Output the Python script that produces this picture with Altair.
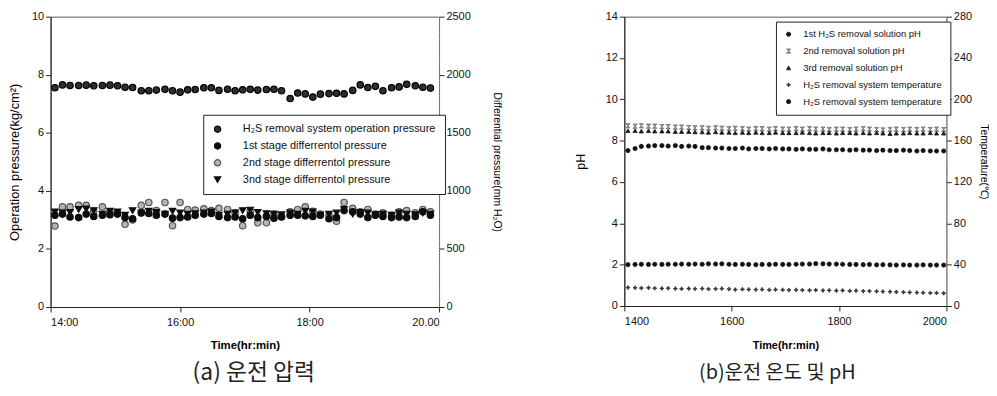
import altair as alt
import pandas as pd

# ---------------- panel (a): operation / differential pressure ----------------
times_a = ["14:04", "14:11", "14:18", "14:26", "14:33", "14:40", "14:48", "14:55", "15:02", "15:09",
           "15:16", "15:24", "15:31", "15:38", "15:46", "15:53", "16:00", "16:07", "16:14", "16:22",
           "16:29", "16:36", "16:44", "16:51", "16:58", "17:05", "17:12", "17:20", "17:27", "17:34",
           "17:42", "17:49", "17:56", "18:03", "18:10", "18:18", "18:25", "18:32", "18:40", "18:47",
           "18:54", "19:01", "19:08", "19:16", "19:23", "19:30", "19:38", "19:45", "19:52"]
op_pressure = [7.55, 7.65, 7.63, 7.63, 7.64, 7.62, 7.63, 7.64, 7.62, 7.57,
               7.56, 7.45, 7.45, 7.47, 7.50, 7.45, 7.40, 7.48, 7.49, 7.55,
               7.55, 7.46, 7.50, 7.45, 7.48, 7.50, 7.47, 7.49, 7.50, 7.45,
               7.18, 7.37, 7.34, 7.23, 7.33, 7.35, 7.36, 7.34, 7.46, 7.65,
               7.56, 7.60, 7.45, 7.55, 7.58, 7.67, 7.62, 7.57, 7.54]
diff_1st = [790, 800, 775, 770, 800, 780, 790, 795, 800, 770,
            760, 810, 805, 790, 800, 765, 770, 775, 790, 800,
            805, 780, 770, 775, 760, 790, 770, 780, 765, 775,
            790, 790, 785, 780, 790, 760, 770, 830, 820, 800,
            770, 790, 780, 770, 775, 770, 780, 820, 790]
diff_2nd = [697, 862, 862, 875, 875, 825, 862, 820, 810, 712,
            750, 875, 900, 830, 900, 700, 900, 840, 835, 845,
            830, 850, 840, 810, 700, 825, 725, 725, 800, 780,
            820, 840, 862, 825, 800, 790, 738, 900, 850, 820,
            840, 800, 810, 790, 820, 830, 810, 840, 820]
diff_3rd = [820, 810, 815, 840, 845, 830, 800, 825, 820, 790,
            830, 810, 825, 815, 800, 825, 810, 800, 805, 810,
            820, 790, 800, 810, 830, 835, 815, 805, 800, 795,
            810, 800, 825, 820, 790, 800, 810, 840, 800, 815,
            810, 795, 800, 790, 810, 800, 795, 810, 800]
keys_a = ["op", "d1", "d2", "d3"]
labels_a = ["H\u2082S removal system operation pressure",
            "1st stage differrentol pressure",
            "2nd stage differrentol pressure",
            "3nd stage differrentol pressure"]
xlabels_a = ["14:00", "16:00", "18:00", "20.00"]

# ---------------- panel (b): temperature and pH ----------------
times_b = ["14:04", "14:12", "14:19", "14:27", "14:34", "14:42", "14:49", "14:57", "15:04", "15:12",
           "15:19", "15:27", "15:34", "15:42", "15:49", "15:57", "16:04", "16:12", "16:19", "16:27",
           "16:34", "16:42", "16:49", "16:57", "17:04", "17:12", "17:19", "17:27", "17:34", "17:42",
           "17:49", "17:57", "18:04", "18:12", "18:19", "18:27", "18:34", "18:42", "18:49", "18:57",
           "19:04", "19:12", "19:19", "19:27", "19:34", "19:42", "19:49", "19:57"]
ph_1st = [7.52, 7.62, 7.72, 7.74, 7.76, 7.76, 7.74, 7.76, 7.72, 7.74,
          7.72, 7.66, 7.66, 7.64, 7.64, 7.62, 7.62, 7.64, 7.60, 7.62,
          7.62, 7.60, 7.62, 7.60, 7.60, 7.58, 7.60, 7.58, 7.58, 7.60,
          7.56, 7.56, 7.56, 7.54, 7.56, 7.54, 7.54, 7.52, 7.54, 7.52,
          7.52, 7.54, 7.52, 7.50, 7.52, 7.50, 7.50, 7.50]
ph_2nd = [8.72, 8.70, 8.72, 8.70, 8.70, 8.68, 8.68, 8.66, 8.66, 8.64,
          8.62, 8.62, 8.60, 8.62, 8.60, 8.58, 8.60, 8.58, 8.56, 8.58,
          8.58, 8.56, 8.58, 8.56, 8.56, 8.58, 8.56, 8.58, 8.56, 8.56,
          8.54, 8.56, 8.56, 8.54, 8.56, 8.58, 8.56, 8.54, 8.52, 8.54,
          8.56, 8.54, 8.56, 8.54, 8.56, 8.54, 8.56, 8.54]
ph_3rd = [8.48, 8.48, 8.46, 8.48, 8.46, 8.46, 8.46, 8.44, 8.44, 8.44,
          8.42, 8.42, 8.40, 8.42, 8.40, 8.40, 8.38, 8.40, 8.38, 8.40,
          8.38, 8.38, 8.40, 8.38, 8.38, 8.38, 8.40, 8.38, 8.36, 8.38,
          8.38, 8.36, 8.38, 8.38, 8.36, 8.38, 8.36, 8.38, 8.36, 8.34,
          8.36, 8.36, 8.38, 8.36, 8.36, 8.38, 8.36, 8.36]
temp_1 = [17.8, 17.6, 17.4, 17.6, 17.2, 17.0, 17.2, 16.8, 16.6, 16.8,
          16.6, 16.8, 16.4, 16.6, 16.8, 16.4, 15.8, 16.2, 16.0, 15.8,
          16.0, 15.6, 15.8, 15.6, 15.4, 15.6, 15.4, 15.2, 15.4, 15.0,
          15.2, 14.8, 15.0, 14.6, 14.8, 14.4, 14.4, 14.2, 14.0, 13.8,
          13.6, 13.4, 13.2, 13.0, 12.8, 12.6, 12.6, 12.4]
temp_2 = [40.0, 40.2, 40.4, 40.2, 40.4, 40.2, 40.4, 40.4, 40.6, 40.4,
          40.6, 40.4, 40.8, 40.6, 40.8, 40.4, 40.2, 40.4, 40.2, 40.0,
          40.2, 40.2, 40.4, 40.2, 40.2, 40.4, 40.6, 40.6, 41.0, 40.8,
          40.6, 40.6, 40.4, 40.2, 40.2, 40.0, 40.2, 39.8, 40.0, 39.8,
          39.6, 39.8, 39.6, 39.6, 39.8, 39.6, 39.6, 39.6]
keys_b = ["p1", "p2", "p3", "t1", "t2"]
labels_b = ["1st H\u2082S removal solution pH",
            "2nd removal solution pH",
            "3rd removal solution pH",
            "H\u2082S removal system temperature",
            "H\u2082S removal system temperature"]
xlabels_b = ["1400", "1600", "1800", "2000"]


def to_min(s):
    h, m = s.split(":")
    return (int(h) - 14) * 60 + int(m)


def long_frame(times, series):
    rows = []
    for key, vals in series:
        for t, v in zip(times, vals):
            rows.append({"t": to_min(t), "series": key, "value": v})
    return pd.DataFrame(rows)


df_a = long_frame(times_a, [("op", op_pressure), ("d2", diff_2nd), ("d3", diff_3rd), ("d1", diff_1st)])
df_b = long_frame(times_b, [("p2", ph_2nd), ("p3", ph_3rd), ("p1", ph_1st), ("t1", temp_1), ("t2", temp_2)])

FONT = "Liberation Sans"
NARROW = "Liberation Sans Narrow, Liberation Sans"
KFONT = "Noto Sans CJK KR"


def label_expr(keys, labels):
    k = "[" + ",".join("'%s'" % x for x in keys) + "]"
    l = "[" + ",".join("'%s'" % x for x in labels) + "]"
    return "%s[indexof(%s, datum.value)]" % (l, k)


def xlab_expr(labels):
    return "[" + ",".join("'%s'" % x for x in labels) + "][round(datum.value/120)]"


# ---------- panel (a) ----------
shapes_a = ["circle", "circle", "circle", "triangle-down"]
fills_a = ["#2e2e2e", "#0d0d0d", "#b4b4b4", "#0d0d0d"]
strokes_a = ["#000000", "#0d0d0d", "#555555", "#0d0d0d"]

leg_a = alt.Legend(orient="none", legendX=154, legendY=99, title=None,
                   labelExpr=label_expr(keys_a, labels_a), labelLimit=400,
                   strokeColor="#222", fillColor="white", padding=9,
                   rowPadding=4, labelFont=FONT, labelFontSize=11, labelColor="#111",
                   symbolSize=40, labelOffset=20, symbolStrokeWidth=1.2)

enc_a = dict(
    x=alt.X("t:Q", scale=alt.Scale(domain=[0, 360], nice=False, zero=False),
            axis=alt.Axis(values=[0, 120, 240, 360], labelExpr=xlab_expr(xlabels_a),
                          title="Time(hr:min)", titleFont=FONT, titleFontSize=11.5,
                          titleFontWeight="bold", titlePadding=12, labelFont=FONT,
                          labelFontSize=11, labelColor="#111", labelPadding=5,
                          tickSize=5, domainColor="#222", tickColor="#222", grid=False)),
    shape=alt.Shape("series:N", scale=alt.Scale(domain=keys_a, range=shapes_a), legend=leg_a),
    fill=alt.Fill("series:N", scale=alt.Scale(domain=keys_a, range=fills_a), legend=leg_a),
    stroke=alt.Stroke("series:N", scale=alt.Scale(domain=keys_a, range=strokes_a), legend=leg_a),
)

base_a = alt.Chart(df_a).mark_point(filled=True, opacity=1, size=42, strokeWidth=1.2)

layer_op = base_a.transform_filter(alt.datum.series == "op").encode(
    y=alt.Y("value:Q", scale=alt.Scale(domain=[0, 10], nice=False),
            axis=alt.Axis(orient="left", values=[0, 2, 4, 6, 8, 10],
                          title="Operation pressure(kg/cm\u00b2)", titleFont=FONT,
                          titleFontSize=13, titleFontWeight="normal", titlePadding=10,
                          labelFont=FONT, labelFontSize=11, labelColor="#111",
                          tickSize=5, domainColor="#222", tickColor="#222", grid=False)),
    **enc_a)
layer_diff = base_a.transform_filter(alt.datum.series != "op").encode(
    y=alt.Y("value:Q", scale=alt.Scale(domain=[0, 2500], nice=False),
            axis=alt.Axis(orient="right", values=[0, 500, 1000, 1500, 2000, 2500], format="d",
                          title="Differential pressure(mm H\u2082O)", titleFont=FONT,
                          titleFontSize=10.5, titleFontWeight="normal", titlePadding=21,
                          labelFont=FONT, labelFontSize=11, labelColor="#111",
                          tickSize=5, domainColor="#888", domainDash=[2, 1],
                          tickColor="#222", grid=False)),
    **enc_a)

panel_a = alt.layer(layer_op, layer_diff).resolve_scale(y="independent").properties(
    width=392, height=293,
    title=alt.TitleParams("(a) 운전 압력", orient="bottom", font=KFONT, fontSize=23,
                          fontWeight="normal", color="#222", anchor="middle", frame="group",
                          offset=11, dx=9))

# ---------- panel (b) ----------
hourglass = "M-1,-1L1,-1L-1,1L1,1Z"
star = "M0,-1L0.3,-0.3L1,0L0.3,0.3L0,1L-0.3,0.3L-1,0L-0.3,-0.3Z"
shapes_b = ["circle", hourglass, "triangle-up", star, "circle"]
fills_b = ["#111111", "#9a9a9a", "#1a1a1a", "#333333", "#111111"]
strokes_b = ["#111111", "#6a6a6a", "#1a1a1a", "#333333", "#111111"]

leg_b = alt.Legend(orient="none", legendX=153, legendY=5, title=None,
                   labelExpr=label_expr(keys_b, labels_b), labelLimit=400,
                   strokeColor="#222", fillColor="white", padding=8,
                   rowPadding=6, labelFont=NARROW, labelFontSize=9.5, labelColor="#111",
                   symbolSize=18, labelOffset=10, symbolStrokeWidth=0.8)

enc_b = dict(
    x=alt.X("t:Q", scale=alt.Scale(domain=[0, 360], nice=False, zero=False),
            axis=alt.Axis(values=[0, 120, 240, 360], labelExpr=xlab_expr(xlabels_b),
                          title="Time(hr:min)", titleFont=NARROW, titleFontSize=11,
                          titleFontWeight="bold", titlePadding=13, labelFont=NARROW,
                          labelFontSize=11, labelColor="#111", labelPadding=5,
                          tickSize=5, domainColor="#222", tickColor="#222", grid=False)),
    shape=alt.Shape("series:N", scale=alt.Scale(domain=keys_b, range=shapes_b), legend=leg_b),
    fill=alt.Fill("series:N", scale=alt.Scale(domain=keys_b, range=fills_b), legend=leg_b),
    stroke=alt.Stroke("series:N", scale=alt.Scale(domain=keys_b, range=strokes_b), legend=leg_b),
)

base_b = alt.Chart(df_b).mark_point(filled=True, opacity=1, size=18, strokeWidth=0.8)

layer_ph = base_b.transform_filter("indexof(['p1','p2','p3'], datum.series) >= 0").encode(
    y=alt.Y("value:Q", scale=alt.Scale(domain=[0, 14], nice=False),
            axis=alt.Axis(orient="left", values=[0, 2, 4, 6, 8, 10, 12, 14],
                          title="pH", titleFont=FONT, titleFontSize=12.5,
                          titleFontWeight="normal", titlePadding=18,
                          labelFont=NARROW, labelFontSize=11, labelColor="#111",
                          tickSize=5, domainColor="#222", tickColor="#222", grid=False)),
    **enc_b)
layer_temp = base_b.transform_filter("indexof(['t1','t2'], datum.series) >= 0").encode(
    y=alt.Y("value:Q", scale=alt.Scale(domain=[0, 280], nice=False),
            axis=alt.Axis(orient="right", values=[0, 40, 80, 120, 160, 200, 240, 280],
                          title="Temperature(\u2103)", titleFont=NARROW,
                          titleFontSize=10.5, titleFontWeight="normal", titlePadding=7,
                          labelFont=NARROW, labelFontSize=11, labelColor="#111",
                          tickSize=5, domainColor="#888", domainDash=[2, 1],
                          tickColor="#222", grid=False)),
    **enc_b)

panel_b = alt.layer(layer_ph, layer_temp).resolve_scale(y="independent").properties(
    width=325, height=292,
    title=alt.TitleParams("(b)운전 온도 및 pH", orient="bottom", font=KFONT, fontSize=20,
                          fontWeight="normal", color="#222", anchor="middle", frame="group",
                          offset=13, dx=-8))

chart = alt.hconcat(panel_a, panel_b, spacing=73).resolve_scale(
    shape="independent", fill="independent", stroke="independent"
).properties(padding=0, background="white").configure_view(
    stroke="#555", strokeWidth=1
)

chart.save("out.html", embed_options={"renderer": "svg", "actions": False})
